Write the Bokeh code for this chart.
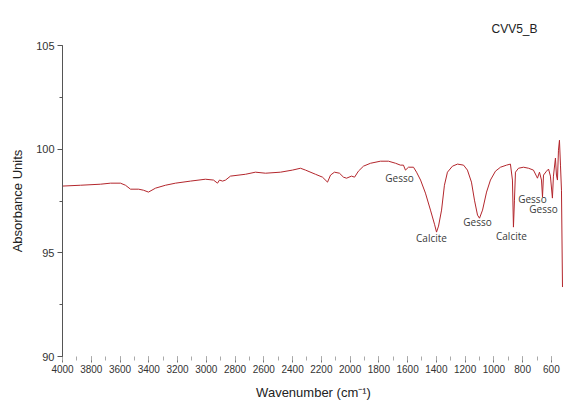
from bokeh.plotting import figure
from bokeh.models import Range1d, SingleIntervalTicker, Title
from bokeh.core.properties import value
from bokeh.embed import file_html
from bokeh.resources import INLINE

# FTIR spectrum of sample CVV5_B
wavenumber = [
    4000, 3875, 3736, 3666, 3597, 3562, 3527, 3471, 3437, 3402, 3353, 3284,
    3214, 3110, 3006, 2950, 2922, 2908, 2887, 2866, 2832, 2727, 2658, 2588,
    2484, 2401, 2345, 2310, 2241, 2192, 2157, 2136, 2109, 2074, 2046, 2025,
    1990, 1969, 1942, 1907, 1858, 1789, 1733, 1684, 1650, 1629, 1615, 1594,
    1559, 1538, 1510, 1476, 1441, 1413, 1399, 1385, 1364, 1344, 1323, 1288,
    1253, 1211, 1184, 1156, 1135, 1114, 1100, 1079, 1051, 1024, 989, 954,
    912, 885, 871, 864, 857, 850, 829, 794, 759, 725, 704, 697,
    683, 669, 662, 655, 634, 620, 607, 593, 586, 572, 565, 558,
    551, 544, 537, 530, 523,
]
absorbance = [
    98.22, 98.26, 98.31, 98.36, 98.36, 98.26, 98.07, 98.07, 98.02, 97.93, 98.12, 98.26,
    98.36, 98.46, 98.55, 98.51, 98.36, 98.51, 98.46, 98.51, 98.70, 98.79, 98.89, 98.84,
    98.89, 98.99, 99.08, 98.99, 98.79, 98.65, 98.41, 98.75, 98.89, 98.84, 98.65, 98.60,
    98.70, 98.65, 98.94, 99.18, 99.32, 99.42, 99.42, 99.32, 99.23, 99.23, 98.99, 99.13,
    99.13, 98.89, 98.51, 97.88, 97.06, 96.38, 96.00, 96.29, 97.06, 98.26, 98.89, 99.18,
    99.28, 99.23, 98.99, 98.41, 97.54, 96.82, 96.67, 97.06, 97.93, 98.51, 98.94, 99.13,
    99.23, 99.28, 98.51, 96.24, 97.54, 98.89, 99.08, 99.13, 99.08, 98.99, 98.70, 98.60,
    98.89, 98.51, 97.69, 98.75, 98.94, 99.04, 98.70, 97.64, 98.70, 99.57, 98.75, 98.51,
    99.95, 100.43, 99.23, 98.02, 93.35,
]

# Band assignments
band_labels = ["Gesso", "Calcite", "Gesso", "Calcite", "Gesso", "Gesso"]
band_x = [1656, 1434, 1114, 878, 732, 655]
band_y = [98.60, 95.71, 96.48, 95.81, 97.59, 97.11]

FONT = "Liberation Sans"
INK = "#333333"

p = figure(
    width=564, height=410,
    output_backend="svg", toolbar_location=None,
    x_range=Range1d(4000, 509), y_range=Range1d(90, 105),
    min_border_left=62, min_border_right=0,
    min_border_top=45, min_border_bottom=54,
    outline_line_color=None, background_fill_color="white",
    border_fill_color="white",
)
p.grid.visible = False

title = Title(
    text="CVV5_B", align="right", offset=27, standoff=16,
    vertical_align="top",
    text_font=FONT, text_font_size="12px", text_font_style="normal",
    text_color="#222222",
)
p.add_layout(title, "above")

p.line(wavenumber, absorbance, line_color="#b3262c", line_width=1)

p.text(
    x=band_x, y=band_y, text=band_labels,
    text_font=value("Open Sans"), text_font_size="10px",
    text_color="#3a3a3a", text_align="center", text_baseline="middle",
)

# x axis: ticks every 200 with a minor tick in between, no axis line
xa = p.xaxis[0]
xa.ticker = SingleIntervalTicker(interval=200, num_minor_ticks=2)
xa.axis_line_color = None
xa.major_tick_line_color = "#777777"
xa.minor_tick_line_color = "#aaaaaa"
xa.major_tick_in = 0
xa.major_tick_out = 6
xa.minor_tick_in = 0
xa.minor_tick_out = 4
xa.major_label_standoff = 2
xa.major_label_text_font = FONT
xa.major_label_text_font_size = "10px"
xa.major_label_text_color = INK
xa.axis_label = "Wavenumber (cm\u207b\u00b9)"
xa.axis_label_text_font = FONT
xa.axis_label_text_font_size = "13px"
xa.axis_label_text_font_style = "normal"
xa.axis_label_text_color = "#222222"
xa.axis_label_standoff = 9

# y axis
ya = p.yaxis[0]
ya.ticker = SingleIntervalTicker(interval=5, num_minor_ticks=2)
ya.axis_line_color = "#555555"
ya.major_tick_line_color = "#555555"
ya.minor_tick_line_color = "#555555"
ya.major_tick_in = 0
ya.major_tick_out = 5
ya.minor_tick_in = 0
ya.minor_tick_out = 3
ya.major_label_standoff = 3
ya.major_label_text_font = FONT
ya.major_label_text_font_size = "11px"
ya.major_label_text_color = INK
ya.axis_label = "Absorbance Units"
ya.axis_label_text_font = FONT
ya.axis_label_text_font_size = "13px"
ya.axis_label_text_font_style = "normal"
ya.axis_label_text_color = "#222222"
ya.axis_label_standoff = 8

open("out.html", "w").write(file_html(p, INLINE))
